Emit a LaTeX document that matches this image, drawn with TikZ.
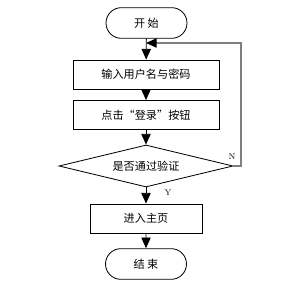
\documentclass[tikz,border=0pt]{standalone}
\usepackage{fontspec}
\newfontfamily\cjk{Noto Sans CJK SC}
\usetikzlibrary{arrows.meta,shapes.geometric,shapes.misc}

\begin{document}
\begin{tikzpicture}[x=0.03cm,y=-0.03cm,>={Triangle[length=3.2mm,width=2.8mm]},
  every node/.style={font=\cjk\fontsize{9.5}{10}\selectfont},
  line width=0.7pt,
  term/.style={draw,rounded rectangle,minimum width=2.43cm,minimum height=0.92cm,inner sep=0pt},
  proc/.style={draw,rectangle,minimum height=0.87cm,inner sep=0pt},
  decide/.style={draw,diamond,minimum width=5.22cm,minimum height=1.26cm,aspect=4.1,inner sep=0pt},
  lab/.style={font=\rmfamily\fontsize{7}{8}\selectfont}]
\useasboundingbox (0,0) rectangle (301,288);
\node[term] (start) at (146.5,23) {开\ 始};
\node[proc,minimum width=4.38cm] (input) at (146,74.5) {输入用户名与密码};
\node[proc,minimum width=4.38cm] (click) at (146,115) {点击“登录”按钮};
\node[decide] (check) at (146,166) {是否通过验证};
\node[proc,minimum width=3.36cm] (home) at (146,218.5) {进入主页};
\node[term] (end) at (146,264) {结\ 束};
\coordinate (join) at (146,43);
\coordinate (corner) at (241,43);
\draw[->] (start) -- (input);
\draw[->] (input) -- (click);
\draw[->] (click) -- (check);
\draw[->] (check) -- (home);
\draw[->] (home) -- (end);
\draw[gray,line width=1pt,-{Triangle[length=3.2mm,width=2.8mm,black]}] (check.east) -| (corner) -- (join);
\node[lab] (no) at (232,157) {N};
\node[lab] (yes) at (168,193) {Y};
\end{tikzpicture}
\end{document}
